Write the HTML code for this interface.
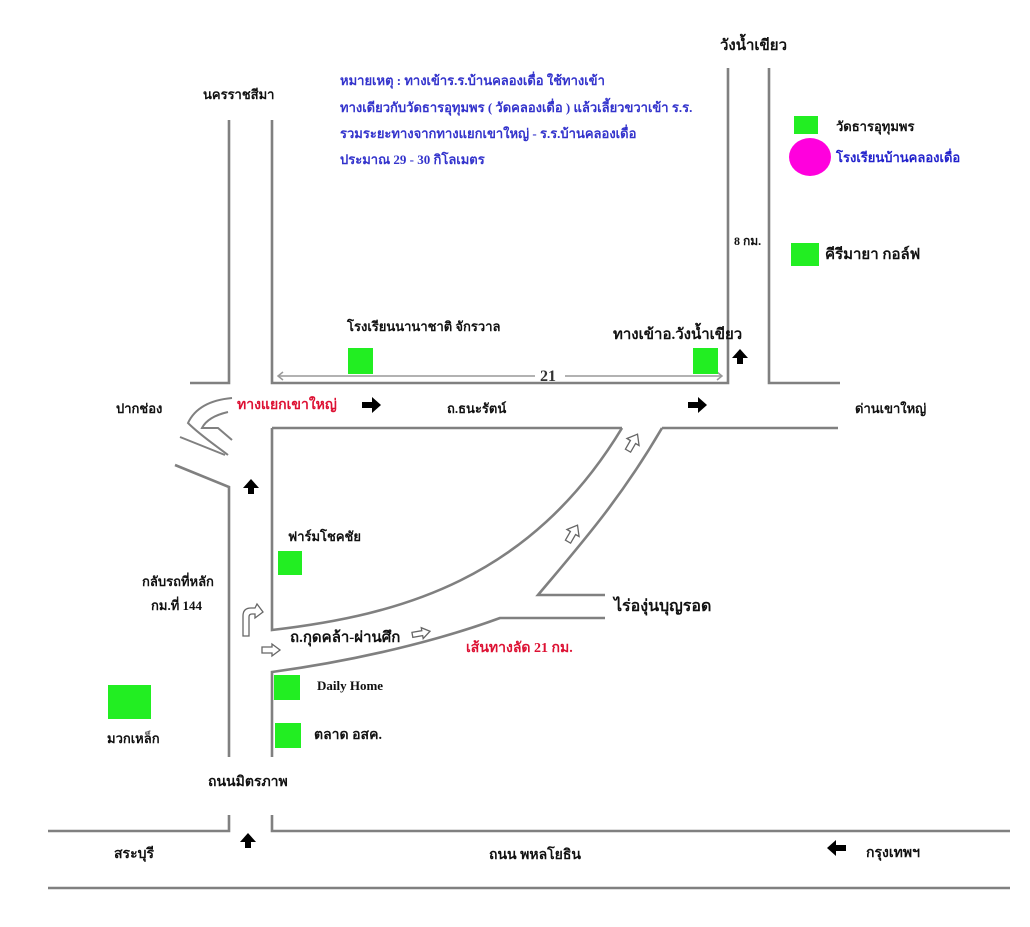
<!DOCTYPE html>
<html><head><meta charset="utf-8"><style>
body{margin:0;background:#fff}
svg text{font-family:"Liberation Serif","DejaVu Serif",serif;font-weight:bold}
</style></head><body>
<svg width="1030" height="922" viewBox="0 0 1030 922" xmlns="http://www.w3.org/2000/svg">
<g stroke="#808080" stroke-width="2.6" fill="none">
<polyline points="229,120 229,383 190,383"/>
<polyline points="272,120 272,383 728,383 728,68"/>
<polyline points="769,68 769,383 840,383"/>
<line x1="272" y1="428" x2="622" y2="428"/>
<path d="M272,428 L272,630 C400,615 530,580 622,428"/>
<path d="M662,428 C620,500 580,545 538,595 L605,595"/>
<line x1="662" y1="428" x2="838" y2="428"/>
<path d="M272,757 L272,672 C360,660 440,640 500,618 L605,618"/>
<polyline points="175,465 229,487 229,757"/>
<polyline points="48,831 229,831 229,815"/>
<polyline points="272,815 272,831 1010,831"/>
<line x1="48" y1="888" x2="1010" y2="888"/>
<!-- loop -->
<path d="M232,398 C210,400 195,408 188,423 C200,435 215,445 228,455" stroke-width="2"/>
<path d="M228,412 C215,415 206,420 202,428 L218,428 L232,440" stroke-width="2"/>
<path d="M180,437 L225,455" stroke-width="2"/>
</g>
<!-- dim line 21 -->
<g stroke="#999" stroke-width="1.5" fill="none">
<line x1="278" y1="376" x2="535" y2="376"/><line x1="565" y1="376" x2="722" y2="376"/>
<polyline points="283,372 278,376 283,380"/><polyline points="717,372 722,376 717,380"/>
</g>
<text x="540" y="381" font-size="16" fill="#333">21</text>
<!-- green squares -->
<g fill="#22ee22">
<rect x="348" y="348" width="25" height="26"/>
<rect x="693" y="348" width="25" height="26"/>
<rect x="794" y="116" width="24" height="18"/>
<rect x="791" y="243" width="28" height="23"/>
<rect x="278" y="551" width="24" height="24"/>
<rect x="108" y="685" width="43" height="34"/>
<rect x="274" y="675" width="26" height="25"/>
<rect x="275" y="723" width="26" height="25"/>
</g>
<ellipse cx="810" cy="157" rx="21" ry="19" fill="#ff00dd"/>
<!-- black arrows -->
<g fill="#000">
<path d="M362,402 h10 v-5 l9,8 -9,8 v-5 h-10z"/>
<path d="M688,402 h10 v-5 l9,8 -9,8 v-5 h-10z"/>
<path d="M846,845 h-10 v-5 l-9,8 9,8 v-5 h10z"/>
<path d="M248,494 v-6 h-5 l8,-9 8,9 h-5 v6z"/>
<path d="M737,364 v-6 h-5 l8,-9 8,9 h-5 v6z"/>
<path d="M245,848 v-6 h-5 l8,-9 8,9 h-5 v6z"/>
</g>
<!-- outline arrows -->
<g fill="#fff" stroke="#666" stroke-width="1.3">
<path d="M262,647 h10 v-3 l8,6 -8,6 v-3 h-10z"/>
<path d="M412,631 h10 v-3 l8,5 -8,6 v-3 h-10z" transform="rotate(-10 420 632)"/>
<path d="M570,543 v-10 h-4 l7,-9 7,9 h-4 v10z" transform="rotate(30 573 533)"/>
<path d="M630,452 v-10 h-4 l7,-9 7,9 h-4 v10z" transform="rotate(30 633 442)"/>
<path d="M243,636 v-20 q0,-8 8,-8 h4 l2,-4 6,8 -8,6 0,-4 h-3 q-3,0 -3,3 v19z"/>
</g>
<!-- labels -->
<g font-size="13" fill="#111">
<text x="203" y="99">นครราชสีมา</text>
<text x="720" y="50" font-size="15">วังน้ำเขียว</text>
<text x="836" y="131">วัดธารอุทุมพร</text>
<text x="836" y="162" fill="#2222cc">โรงเรียนบ้านคลองเดื่อ</text>
<text x="734" y="245" font-size="12">8 กม.</text>
<text x="825" y="259" font-size="15">คีรีมายา กอล์ฟ</text>
<text x="347" y="331">โรงเรียนนานาชาติ จักรวาล</text>
<text x="613" y="339" font-size="15">ทางเข้าอ.วังน้ำเขียว</text>
<text x="116" y="413">ปากช่อง</text>
<text x="237" y="409" fill="#dd1133" font-size="14">ทางแยกเขาใหญ่</text>
<text x="447" y="413">ถ.ธนะรัตน์</text>
<text x="855" y="413">ด่านเขาใหญ่</text>
<text x="288" y="541">ฟาร์มโชคชัย</text>
<text x="142" y="586">กลับรถที่หลัก</text>
<text x="151" y="610">กม.ที่ 144</text>
<text x="290" y="642" font-size="15">ถ.กุดคล้า-ผ่านศึก</text>
<text x="614" y="611" font-size="16">ไร่องุ่นบุญรอด</text>
<text x="466" y="652" fill="#dd1133" font-size="14">เส้นทางลัด 21 กม.</text>
<text x="317" y="690">Daily Home</text>
<text x="314" y="739" font-size="14">ตลาด อสค.</text>
<text x="107" y="743">มวกเหล็ก</text>
<text x="208" y="786" font-size="14">ถนนมิตรภาพ</text>
<text x="114" y="858" font-size="14">สระบุรี</text>
<text x="489" y="859" font-size="14">ถนน พหลโยธิน</text>
<text x="866" y="857" font-size="14">กรุงเทพฯ</text>
</g>
<g font-size="13" fill="#3333cc">
<text x="340" y="85">หมายเหตุ  : ทางเข้าร.ร.บ้านคลองเดื่อ ใช้ทางเข้า</text>
<text x="340" y="112">ทางเดียวกับวัดธารอุทุมพร ( วัดคลองเดื่อ ) แล้วเลี้ยวขวาเข้า ร.ร.</text>
<text x="340" y="138">รวมระยะทางจากทางแยกเขาใหญ่ - ร.ร.บ้านคลองเดื่อ</text>
<text x="340" y="164">ประมาณ  29 - 30 กิโลเมตร</text>
</g>
</svg>
</body></html>
